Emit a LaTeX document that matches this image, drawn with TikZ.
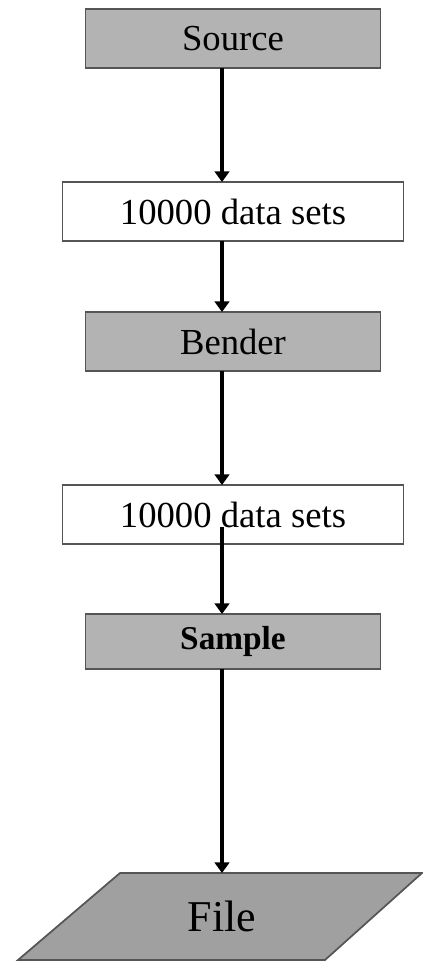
\documentclass[tikz,border=0pt]{standalone}
\usepackage{fontspec}
\setmainfont{Liberation Serif}
\usepackage{tikz}
\usetikzlibrary{arrows.meta, positioning, backgrounds}
\definecolor{boxGray}{RGB}{179, 179, 179}
\definecolor{fileGray}{RGB}{160, 160, 160}
\definecolor{edgeGray}{RGB}{85, 85, 85}

\tikzset{
  stage/.style={draw=edgeGray, line width=1.3pt, fill=boxGray, inner sep=0pt, outer sep=0pt,
                minimum width=221.25pt, minimum height=44.25pt, font=\fontsize{27.5}{30}\selectfont},
  dataset/.style={stage, fill=white, minimum width=255.75pt},
  flow/.style={line width=2.5pt, -{Triangle[length=8pt, width=11pt]}}
}

\begin{document}
\begin{tikzpicture}[x=0.75pt, y=-0.75pt]
    \useasboundingbox (0,0) rectangle (422,962);

    \node[stage] (src) at (233,38.5) {Source};
    \node[dataset, below=85.5pt of src] (sets1) {10000 data sets};
    \node[stage, below=53.25pt of sets1] (bender) {Bender};
    \node[dataset, below=85.5pt of bender] (sets2) {10000 data sets};
    \node[stage, below=52.5pt of sets2, minimum height=41.25pt,
          font=\fontsize{25}{28}\selectfont\bfseries] (sample) {Sample};
    \node[inner sep=0pt, outer sep=0pt, minimum height=65.25pt,
          font=\fontsize{33}{36}\selectfont,
          below=153pt of sample, xshift=-8.25pt] (file) {File};

    % slanted output box behind the file label
    \begin{scope}[on background layer]
      \draw[edgeGray, line width=1.3pt, fill=fileGray, shift={(file.center)}]
        (-102,-43.5) -- (200,-43.5) -- (103,43.5) -- (-204,43.5) -- cycle;
    \end{scope}

    % arrows run a little left of the box centres
    \draw[flow] ([xshift=-8.25pt]src.south) -- ([xshift=-8.25pt]sets1.north);
    \draw[flow] ([xshift=-8.25pt]sets1.south) -- ([xshift=-8.25pt]bender.north);
    \draw[flow] ([xshift=-8.25pt]bender.south) -- ([xshift=-8.25pt]sets2.north);
    \draw[flow] ([xshift=-8.25pt, yshift=12.75pt]sets2.south) -- ([xshift=-8.25pt]sample.north);
    \draw[flow] ([xshift=-8.25pt]sample.south) -- (file.north);
\end{tikzpicture}
\end{document}
